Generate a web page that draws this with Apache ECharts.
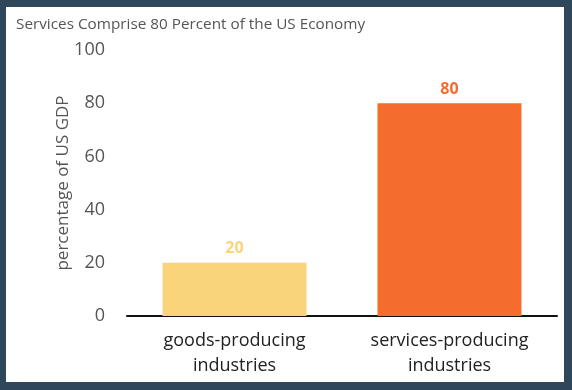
<!DOCTYPE html>
<html><head><meta charset="utf-8">
<script src="https://cdn.jsdelivr.net/npm/echarts@6/dist/echarts.min.js"></script>
<style>
html,body{margin:0;padding:0;background:#2e475b;}
#wrap{width:572px;height:390px;box-sizing:border-box;border-style:solid;border-color:#2e475b;border-width:7px 8px 8px 6px;background:#fff;}
#c{width:558px;height:375px;}
</style></head>
<body><div id="wrap"><div id="c"></div></div>
<script>
const categories = ['goods-producing\nindustries', 'services-producing\nindustries'];
const values = [20, 80];
const barColors = ['#fad47a', '#f46c2e'];
const yTicks = [0, 20, 40, 60, 80, 100];

const chart = echarts.init(document.getElementById('c'));
chart.setOption({
  animation: false,
  title: {
    text: 'Services Comprise 80 Percent of the US Economy',
    left: 5, top: 5,
    textStyle: {fontFamily: 'Open Sans', fontSize: 15.3, fontWeight: 'normal', color: '#555'}
  },
  grid: {left: 121, right: 7, top: 43, bottom: 66},
  xAxis: {
    type: 'category',
    data: categories,
    axisLine: {lineStyle: {color: '#111', width: 2}},
    axisTick: {show: false},
    axisLabel: {fontFamily: 'Open Sans', fontSize: 18, color: '#222', lineHeight: 25, margin: 12}
  },
  yAxis: {
    type: 'value',
    min: yTicks[0], max: yTicks[yTicks.length - 1], interval: 20,
    name: 'percentage of US GDP',
    nameLocation: 'middle', nameGap: 55, nameMoveOverlap: false,
    nameTextStyle: {fontFamily: 'Open Sans', fontSize: 17, color: '#555'},
    axisLine: {show: false}, axisTick: {show: false},
    splitLine: {show: false},
    axisLabel: {fontFamily: 'Open Sans', fontSize: 18, color: '#555', margin: 22}
  },
  series: [{
    type: 'bar',
    barWidth: 144,
    data: values.map((v, i) => ({value: v, itemStyle: {color: barColors[i]}, label: {color: barColors[i]}})),
    label: {show: true, position: 'top', distance: 6, fontFamily: 'Open Sans', fontSize: 16, fontWeight: 'bold'}
  }]
});
</script></body></html>
